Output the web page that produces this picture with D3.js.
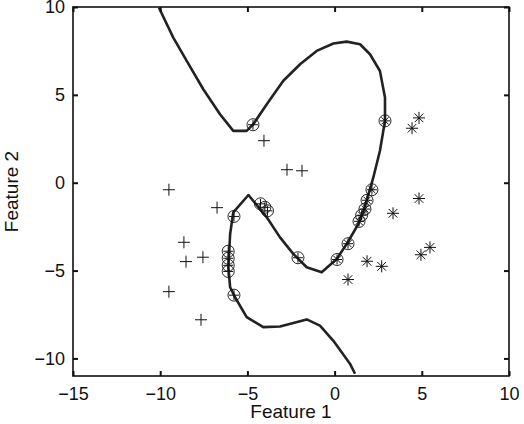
<!DOCTYPE html>
<html>
<head>
<meta charset="utf-8">
<script src="https://cdn.jsdelivr.net/npm/d3@7"></script>
<style>
body { margin: 0; background: #fff; }
text { font-family: "Liberation Sans", Arial, sans-serif; }
</style>
</head>
<body>
<svg id="chart" width="524" height="424"></svg>
<script>
// class 1 points (+)
var plusX = [-4.05, -2.73, -1.87, -9.5, -6.74, -8.64, -8.52, -7.55, -9.5, -7.66];
var plusY = [2.39, 0.74, 0.68, -0.4, -1.42, -3.39, -4.49, -4.24, -6.2, -7.8];
// class 2 points (*)
var starX = [4.84, 4.44, 4.84, 3.35, 5.47, 4.95, 1.86, 2.7, 0.77];
var starY = [3.69, 3.1, -0.9, -1.74, -3.68, -4.1, -4.47, -4.76, -5.51];
// support vectors (circled), with their class marker
var svX = [-4.68, -4.25, -4.0, -3.85, -5.77, -6.1, -6.1, -6.1, -6.1, -5.77, -2.1, 2.89, 0.14, 0.77, 1.4, 1.55, 1.74, 1.86, 2.14];
var svY = [3.3, -1.2, -1.4, -1.6, -1.92, -3.9, -4.3, -4.7, -5.05, -6.4, -4.27, 3.52, -4.37, -3.47, -2.2, -1.85, -1.5, -1.0, -0.4];
var svClass = ["+", "+", "+", "+", "+", "+", "+", "+", "+", "+", "+", "*", "*", "*", "*", "*", "*", "*", "*"];
// decision boundary
var bX = [-10.07, -9.25, -8.48, -7.53, -6.57, -5.81, -5.04, -4.66, -3.89, -2.94, -1.98, -1.03, -0.07, 0.69, 1.46, 2.03, 2.6, 2.89, 2.89, 2.6, 2.22, 1.84, 1.65, 1.36, 0.69, 0.12, -0.74, -1.6, -2.37, -3.13, -3.89, -4.94, -5.81, -5.99, -6.09, -5.99, -5.71, -5.04, -4.09, -3.13, -1.6, -0.84, -0.07, 0.88, 1.17];
var bY = [9.96, 8.26, 6.93, 5.32, 3.9, 2.95, 2.95, 3.33, 4.47, 5.8, 6.74, 7.5, 7.92, 8.03, 7.88, 7.31, 6.36, 4.85, 3.52, 1.82, 0.3, -1.02, -1.59, -2.35, -3.49, -4.34, -5.1, -4.81, -4.05, -3.11, -1.97, -0.7, -1.69, -2.92, -4.81, -5.95, -6.52, -7.65, -8.22, -8.18, -7.78, -8.13, -9.0, -10.3, -10.87];
var xTicks = [-15, -10, -5, 0, 5, 10];
var yTicks = [-10, -5, 0, 5, 10];

(function () {
    var svg = d3.select("#chart");
    var mLeft = 73, mRight = 509, mTop = 7, mBottom = 376;
    var x = d3.scaleLinear().domain([-15, 10]).range([mLeft, mRight]);
    var y = d3.scaleLinear().domain([-11, 10]).range([mBottom, mTop]);

    svg.append("clipPath").attr("id", "clip")
        .append("rect").attr("x", mLeft).attr("y", mTop)
        .attr("width", mRight - mLeft).attr("height", mBottom - mTop);
    var g = svg.append("g");

    var line = d3.line().x(function (d) { return x(d[0]); }).y(function (d) { return y(d[1]); });
    g.append("path")
        .attr("clip-path", "url(#clip)")
        .attr("d", line(d3.zip(bX, bY)))
        .attr("fill", "none").attr("stroke", "#222").attr("stroke-width", 2.6)
        .attr("stroke-linejoin", "round");

    function plus(sel, px, py, s) {
        sel.append("path")
            .attr("d", "M" + (px - s) + "," + py + "H" + (px + s) + "M" + px + "," + (py - s) + "V" + (py + s))
            .attr("stroke", "#111").attr("stroke-width", 1).attr("fill", "none");
    }
    function star(sel, px, py, s) {
        var d = "M" + (px - s) + "," + py + "H" + (px + s) + "M" + px + "," + (py - s) + "V" + (py + s);
        var k = s * 0.72;
        d += "M" + (px - k) + "," + (py - k) + "L" + (px + k) + "," + (py + k);
        d += "M" + (px - k) + "," + (py + k) + "L" + (px + k) + "," + (py - k);
        sel.append("path").attr("d", d).attr("stroke", "#111").attr("stroke-width", 1).attr("fill", "none");
    }

    plusX.forEach(function (v, i) { plus(g, x(v), y(plusY[i]), 6); });
    starX.forEach(function (v, i) { star(g, x(v), y(starY[i]), 6); });
    svX.forEach(function (v, i) {
        var px = x(v), py = y(svY[i]);
        if (svClass[i] === "+") plus(g, px, py, 5); else star(g, px, py, 5);
        g.append("circle").attr("cx", px).attr("cy", py).attr("r", 6)
            .attr("fill", "none").attr("stroke", "#111").attr("stroke-width", 0.9);
    });

    // frame
    svg.append("rect").attr("x", mLeft).attr("y", mTop)
        .attr("width", mRight - mLeft).attr("height", mBottom - mTop)
        .attr("fill", "none").attr("stroke", "#111").attr("stroke-width", 1.6);

    var fmt = function (d) { return d < 0 ? "\u2212" + (-d) : d; };
    var xa = svg.append("g").attr("transform", "translate(0," + mBottom + ")")
        .call(d3.axisBottom(x).tickValues(xTicks).tickSize(-5).tickPadding(11).tickFormat(fmt));
    var xa2 = svg.append("g").attr("transform", "translate(0," + mTop + ")")
        .call(d3.axisTop(x).tickValues(xTicks).tickSize(-5).tickFormat(""));
    var ya = svg.append("g").attr("transform", "translate(" + mLeft + ",0)")
        .call(d3.axisLeft(y).tickValues(yTicks).tickSize(-5).tickPadding(8).tickFormat(fmt));
    var ya2 = svg.append("g").attr("transform", "translate(" + mRight + ",0)")
        .call(d3.axisRight(y).tickValues(yTicks).tickSize(-5).tickFormat(""));
    [xa, xa2, ya, ya2].forEach(function (a) {
        a.select(".domain").remove();
        a.selectAll("line").attr("stroke", "#111").attr("stroke-width", 2);
        a.selectAll("text").attr("font-size", 18).attr("fill", "#111")
            .style("font-family", "'Liberation Sans', Arial, sans-serif");
    });

    svg.append("text").attr("x", (mLeft + mRight) / 2).attr("y", 418)
        .attr("text-anchor", "middle").attr("font-size", 19).attr("fill", "#111").text("Feature 1");
    svg.append("text").attr("transform", "translate(18," + (mTop + mBottom) / 2 + ") rotate(-90)")
        .attr("text-anchor", "middle").attr("font-size", 19).attr("fill", "#111").text("Feature 2");
})();
</script>
</body>
</html>
